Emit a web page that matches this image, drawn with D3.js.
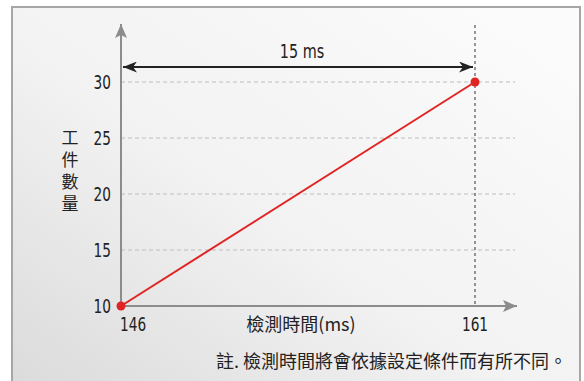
<html>
<head>
<meta charset="utf-8">
<title>工件數量</title>
<style>
  body { margin: 0; background: #fff; }
  text { font-family: "DejaVu Sans Condensed", "DejaVu Sans", sans-serif; fill: #222; }
  .cjk { font-family: "Noto Sans CJK TC", sans-serif; }
</style>
</head>
<body>
<svg id="chart" width="584" height="381"></svg>
<script src="https://cdnjs.cloudflare.com/ajax/libs/d3/7.8.5/d3.min.js"></script>
<script>
// data
var times = [146, 161];
var counts = [10, 30];
var yTicks = [10, 15, 20, 25, 30];
var xTicks = [146, 161];
var spanLabel = "15 ms";
var xTitle = "檢測時間(ms)";
var yTitle = "工件數量";
var note = "註. 檢測時間將會依據設定條件而有所不同。";

var svg = d3.select("#chart");
var narrow = "scale(0.8,1)";

var x = d3.scaleLinear().domain([146, 161]).range([121, 475]);
var y = d3.scaleLinear().domain([10, 30]).range([306, 82]);

// background panel
var defs = svg.append("defs");
var grad = defs.append("linearGradient").attr("id", "bg")
  .attr("x1", "0%").attr("y1", "100%").attr("x2", "100%").attr("y2", "0%");
grad.append("stop").attr("offset", "0%").attr("stop-color", "#dadada");
grad.append("stop").attr("offset", "45%").attr("stop-color", "#f2f2f2");
grad.append("stop").attr("offset", "100%").attr("stop-color", "#fcfcfc");

svg.append("rect")
  .attr("x", 12).attr("y", 7).attr("width", 568).attr("height", 390)
  .attr("fill", "url(#bg)").attr("stroke", "#a6a6a6").attr("stroke-width", 2);

// markers
function marker(id, color, path, w, h) {
  defs.append("marker").attr("id", id)
    .attr("viewBox", "0 0 " + w + " " + h)
    .attr("refX", w).attr("refY", h / 2)
    .attr("markerWidth", w).attr("markerHeight", h)
    .attr("markerUnits", "userSpaceOnUse")
    .attr("orient", "auto-start-reverse")
    .append("path").attr("d", path).attr("fill", color);
}
marker("axisArrow", "#8c8c8c", "M0,0 L14,6 L0,12 L3,6 Z", 14, 12);
marker("spanArrow", "#222", "M0,0 L14,5.5 L0,11 L4,5.5 Z", 14, 11);

// gridlines
svg.append("g").selectAll("line").data(yTicks.filter(function(d) { return d > 10; }))
  .enter().append("line")
  .attr("x1", x(146)).attr("x2", 515)
  .attr("y1", function(d) { return y(d); }).attr("y2", function(d) { return y(d); })
  .attr("stroke", "#bdbdbd").attr("stroke-width", 1.2).attr("stroke-dasharray", "4,3");

// vertical dashed marker at 161
svg.append("line")
  .attr("x1", x(161)).attr("x2", x(161)).attr("y1", 25).attr("y2", y(10))
  .attr("stroke", "#333").attr("stroke-width", 1).attr("stroke-dasharray", "3,3");

// axes lines with arrows
svg.append("line")
  .attr("x1", x(146)).attr("x2", x(146)).attr("y1", y(10) + 1).attr("y2", 24)
  .attr("stroke", "#8c8c8c").attr("stroke-width", 2).attr("marker-end", "url(#axisArrow)");
svg.append("line")
  .attr("x1", x(146) - 1).attr("x2", 517).attr("y1", y(10)).attr("y2", y(10))
  .attr("stroke", "#8c8c8c").attr("stroke-width", 2).attr("marker-end", "url(#axisArrow)");

// y tick labels
var yAxis = svg.append("g").attr("transform", "translate(" + (x(146) - 10) + ",0)")
  .call(d3.axisLeft(y).tickValues(yTicks).tickSize(0).tickPadding(0));
yAxis.select(".domain").remove();
yAxis.selectAll("text").attr("font-size", 19).attr("fill", "#222")
  .attr("font-family", null).attr("dy", "0.36em").attr("transform", narrow);

// x tick labels
svg.append("g").selectAll("g").data(xTicks).enter().append("g")
  .attr("transform", function(d, i) { return "translate(" + (i === 0 ? x(d) - 1 : x(d)) + ",331)"; })
  .append("text")
  .attr("text-anchor", function(d, i) { return i === 0 ? "start" : "middle"; })
  .attr("font-size", 19).attr("transform", narrow)
  .text(function(d) { return d; });

// span arrow
svg.append("line")
  .attr("x1", x(146) + 2).attr("x2", x(161) - 2).attr("y1", 67).attr("y2", 67)
  .attr("stroke", "#222").attr("stroke-width", 2)
  .attr("marker-start", "url(#spanArrow)").attr("marker-end", "url(#spanArrow)");
svg.append("g").attr("transform", "translate(302,58)")
  .append("text").attr("text-anchor", "middle").attr("font-size", 20)
  .attr("transform", narrow).text(spanLabel);

// data line and points
var pts = times.map(function(t, i) { return [t, counts[i]]; });
svg.append("path").datum(pts)
  .attr("d", d3.line().x(function(d) { return x(d[0]); }).y(function(d) { return y(d[1]); }))
  .attr("fill", "none").attr("stroke", "#e02424").attr("stroke-width", 2);
svg.append("g").selectAll("circle").data(pts).enter().append("circle")
  .attr("cx", function(d) { return x(d[0]); }).attr("cy", function(d) { return y(d[1]); })
  .attr("r", 4.5).attr("fill", "#e02424");

// titles
svg.append("text").attr("class", "cjk")
  .attr("x", 301).attr("y", 331).attr("text-anchor", "middle").attr("font-size", 18)
  .text(xTitle);
svg.append("text").attr("class", "cjk")
  .attr("x", 70).attr("y", 129)
  .attr("writing-mode", "tb").attr("letter-spacing", 5)
  .attr("font-size", 17)
  .text(yTitle);
svg.append("text").attr("class", "cjk")
  .attr("x", 567).attr("y", 368).attr("text-anchor", "end").attr("font-size", 18)
  .text(note);
</script>
</body>
</html>
